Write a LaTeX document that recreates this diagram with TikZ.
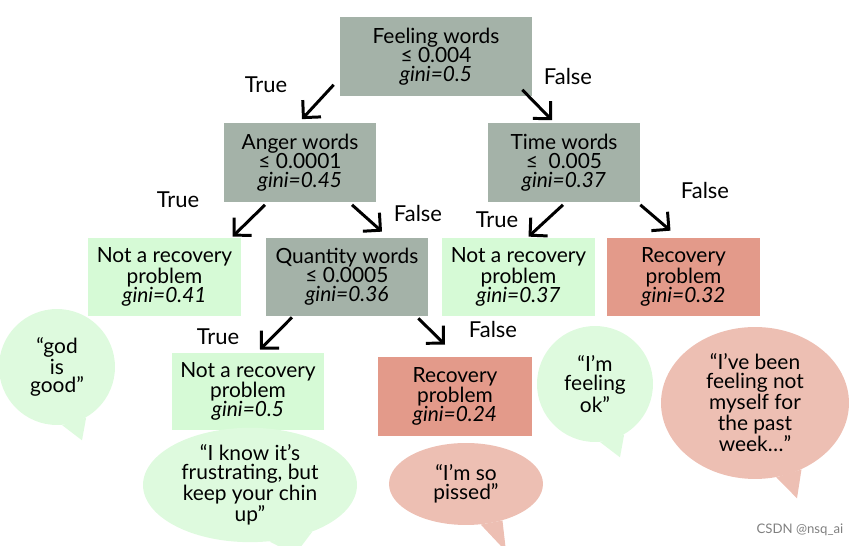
\documentclass[tikz,border=0pt]{standalone}
\usepackage{fontspec}
\setmainfont{Lato}
\usetikzlibrary{arrows.meta,calc,shapes.geometric}
\definecolor{splitgray}{RGB}{164,178,168}
\definecolor{leafgreen}{RGB}{214,250,214}
\definecolor{leafred}{RGB}{227,154,138}
\definecolor{bubgreen}{RGB}{222,250,222}
\definecolor{bubred}{RGB}{237,191,179}

\begin{document}
\begin{tikzpicture}[x=0.02cm,y=-0.02cm,
    every node/.style={font=\fontsize{11.9}{10.8}\selectfont, align=center},
    split/.style={fill=splitgray, minimum width=3.04cm, minimum height=1.58cm},
    notrec/.style={fill=leafgreen, minimum width=3.06cm, minimum height=1.56cm},
    recov/.style={fill=leafred, minimum width=3.06cm, minimum height=1.56cm},
    arr/.style={-{Straight Barb[angle=90:10pt]}, line width=1.7pt},
    lbl/.style={font=\fontsize{12.5}{12}\selectfont},
    bubble/.style={inner sep=0pt}]
    \useasboundingbox (0,0) rectangle (850,546);
    \clip (0,0) rectangle (850,546);

    % tree boxes
    \node[split, minimum width=3.84cm] (feel) at (436,57) {Feeling words\\≤ 0.004\\\textit{gini=0.5}};
    \node[split] (anger) at (300,163) {Anger words\\≤ 0.0001\\\textit{gini=0.45}};
    \node[split] (time) at (564,163) {Time words\\≤ \ 0.005\\\textit{gini=0.37}};
    \node[notrec] (nr1) at (164.5,277) {Not a recovery\\problem\\\textit{gini=0.41}};
    \node[split, minimum width=3.24cm, minimum height=1.56cm] (qty) at (347,277) {Quantity words\\≤ 0.0005\\\textit{gini=0.36}};
    \node[notrec] (nr2) at (518.5,277) {Not a recovery\\problem\\\textit{gini=0.37}};
    \node[recov] (rp1) at (683.5,277) {Recovery\\problem\\\textit{gini=0.32}};
    \node[notrec, minimum width=3.04cm, minimum height=1.54cm] (nr3) at (248,391.5) {Not a recovery\\problem\\\textit{gini=0.5}};
    \node[recov, minimum width=3.08cm, minimum height=1.58cm] (rp2) at (455,396.5) {Recovery\\problem\\\textit{gini=0.24}};

    % arrows
    \draw[arr] ($(feel.south west)+(-6,-12)$) -- ($(anger.north)+(2,-4)$);
    \draw[arr] ($(feel.south east)+(-10,-7)$) -- ($(time.north)+(-12,-3)$);
    \draw[arr] ($(anger.south)+(-35,2)$) -- ($(nr1.north)+(68,-1)$);
    \draw[arr] ($(anger.south)+(52,2)$) -- ($(qty.north)+(35,-6)$);
    \draw[arr] ($(time.south)+(-1,2)$) -- ($(nr2.north)+(10,-1)$);
    \draw[arr] ($(time.south east)+(0,2)$) -- ($(rp1.north)+(-13,-7)$);
    \draw[arr] ($(qty.south)+(-55,1)$) -- ($(nr3.north)+(12,-3)$);
    \draw[arr] ($(qty.south east)+(-10,2)$) -- ($(rp2.north)+(-10,-12)$);

    \node[lbl] (tA) at (266,85) {True};
    \node[lbl] (fB) at (568,77) {False};
    \node[lbl] (tC) at (178,200) {True};
    \node[lbl] (fD) at (418,214) {False};
    \node[lbl] (tE) at (497,220) {True};
    \node[lbl] (fF) at (705,191) {False};
    \node[lbl] (tG) at (218,337) {True};
    \node[lbl] (fH) at (493,330) {False};

    % speech bubbles
    \node[bubble, circle, fill=bubgreen, minimum size=2.32cm] (god) at (57,367) {“god\\is\\good”};
    \fill[bubgreen] (god.-60) -- ($(god.south)+(25,15)$) -- (god.-85) -- cycle;
    \node[bubble, circle, fill=bubgreen, minimum size=2.32cm] (ok) at (595,384) {“I’m\\feeling\\ok”};
    \fill[bubgreen] (ok.-60) -- ($(ok.south)+(25,15)$) -- (ok.-85) -- cycle;
    \node[bubble, ellipse, fill=bubred, minimum width=3.76cm, minimum height=3.04cm] (week) at (755,403) {“I’ve been\\feeling not\\myself for\\the past\\week…”};
    \fill[bubred] (week.-55) -- ($(week.south)+(42,19)$) -- (week.-74) -- cycle;
    \node[bubble, ellipse, fill=bubgreen, minimum width=4.28cm, minimum height=1.92cm] (chin) at (250,485) {“I know it’s\\frustrating, but\\keep your chin\\up”};
    \fill[bubgreen] (chin.-37) -- ($(chin.south)+(45,12)$) -- (chin.-71) -- cycle;
    \node[bubble, ellipse, fill=bubred, minimum width=3.08cm, minimum height=1.64cm] (pissed) at (466,484) {“I’m so\\pissed”};
    \fill[bubred] (pissed.-45) -- ($(pissed.south)+(40,26)$) -- (pissed.-70) -- cycle;

    \node[font=\fontsize{7.5}{8}\selectfont, text=gray] (mark) at (800,530) {CSDN @nsq\_ai};
\end{tikzpicture}
\end{document}
